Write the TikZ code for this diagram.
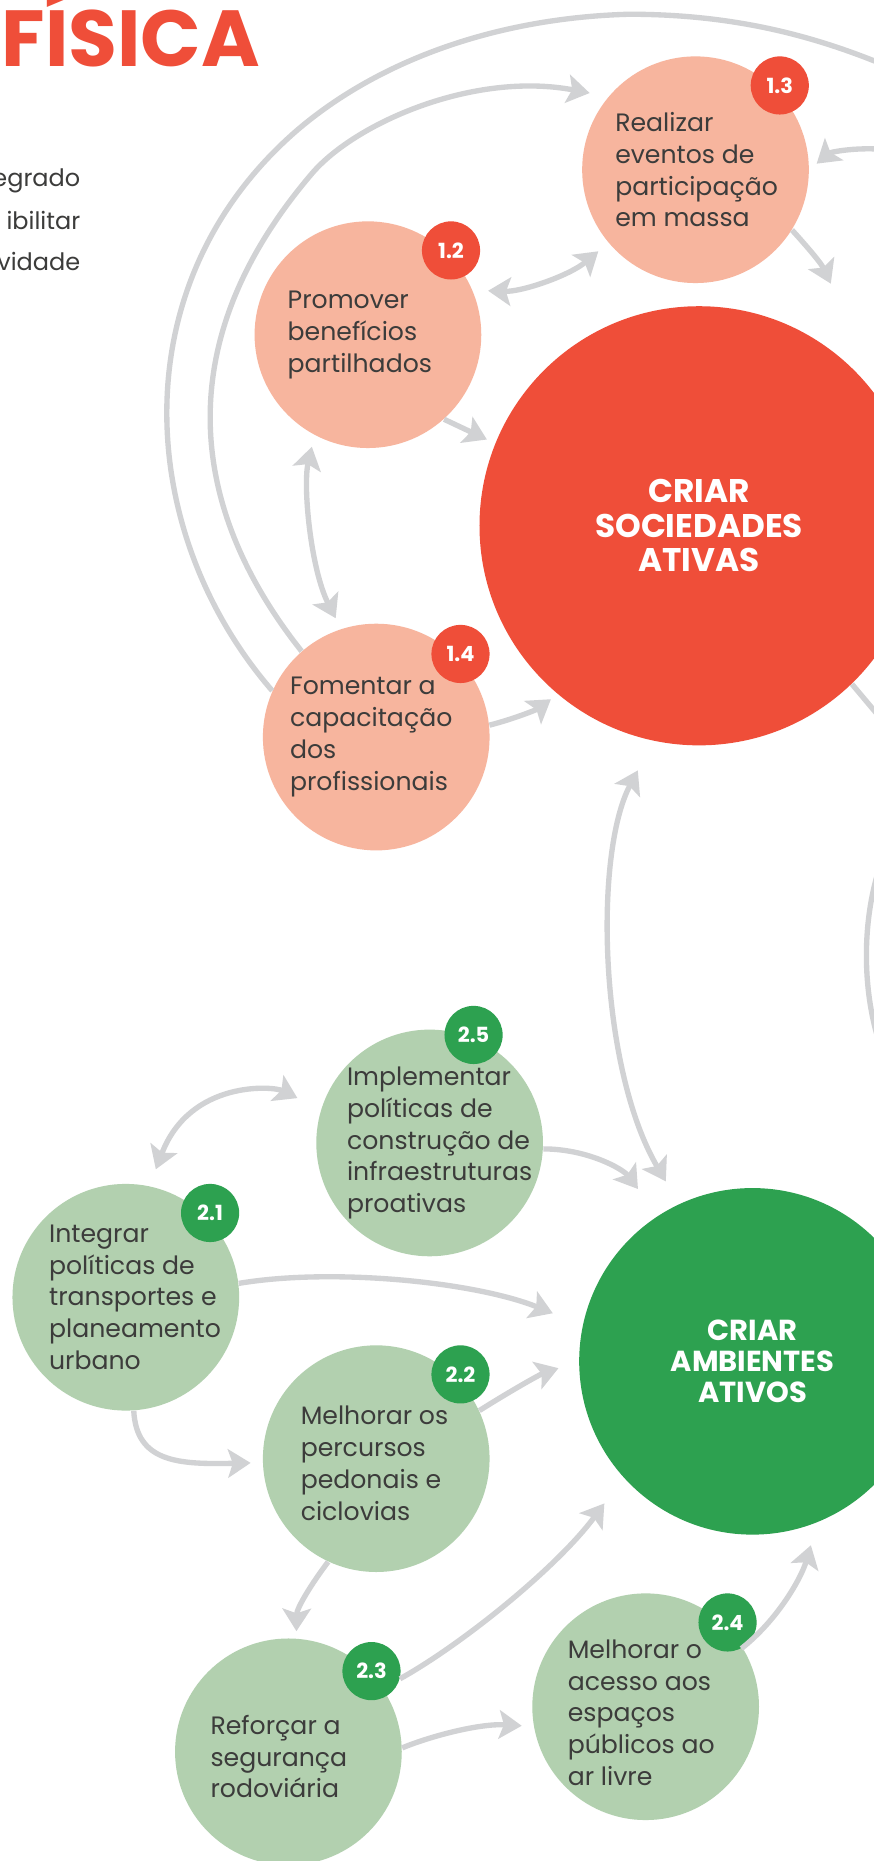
\documentclass[tikz,border=0pt]{standalone}
\usepackage{fontspec}
\setmainfont{Poppins}
\usetikzlibrary{arrows.meta,calc}
\definecolor{cred}{RGB}{239,78,57}
\definecolor{csalmon}{RGB}{247,181,158}
\definecolor{cgreen}{RGB}{45,161,80}
\definecolor{clgreen}{RGB}{178,208,175}
\definecolor{carrow}{RGB}{209,210,212}
\definecolor{ctext}{RGB}{60,60,59}
\begin{document}
\begin{tikzpicture}[x=0.5pt,y=-0.5pt]
\tikzset{
  gtip/.tip={Stealth[length=9.5pt,width=12pt,inset=2pt]},
  arr/.style={draw=carrow,line width=2.25pt,-gtip},
  darr/.style={draw=carrow,line width=2.25pt,gtip-gtip},
  plainline/.style={draw=carrow,line width=2.25pt},
  small/.style={circle,minimum size=95.5pt,inner sep=0pt},
  sone/.style={small,fill=csalmon},
  stwo/.style={small,fill=clgreen},
  txt/.style={anchor=west,inner sep=0pt,align=left,text=ctext,font=\fontsize{10.6}{13.4}\selectfont},
  badge/.style={circle,minimum size=24.5pt,inner sep=0pt,text=white,font=\fontsize{8.8}{9}\bfseries},
  bigS/.style={circle,minimum size=185pt,inner sep=0pt,fill=cred,text=white,align=center,font=\fontsize{13.8}{14.5}\bfseries},
  bigA/.style={circle,minimum size=146pt,inner sep=0pt,fill=cgreen,text=white,align=center,font=\fontsize{12.2}{13.2}\bfseries},
  side/.style={anchor=base east,inner sep=0pt,text=ctext,font=\fontsize{10.1}{13}\selectfont}
}
\fill[white] (0,0) rectangle (736,1568);
\useasboundingbox (0,0) rectangle (736,1568);

% title and side text
\node[anchor=base west,inner sep=0pt,text=cred,font=\fontsize{33.5}{34}\bfseries] (title) at (1,56) {FÍSICA};
\node[side] (l1) at (68,157) {egrado};
\node[side] (l2) at (68,193) {ibilitar};
\node[side] (l3) at (68,228) {vidade};

% main circles
\node[bigS] (nS) at (589,443) {CRIAR\\SOCIEDADES\\ATIVAS};
\node[bigA] (nA) at (634,1147) {CRIAR\\AMBIENTES\\ATIVOS};

% small circles
\node[sone] (n13) at (586,143) {};
\node[sone] (n12) at (310,282) {};
\node[sone] (n14) at (317,621) {};
\node[stwo] (n25) at (362,963) {};
\node[stwo] (n21) at (106,1093) {};
\node[stwo] (n22) at (317,1229) {};
\node[stwo] (n23) at (243,1476) {};
\node[stwo] (n24) at (544,1438) {};

% texts
\node[txt] (t13) at ($(n13)+(-68,0)$) {Realizar\\eventos de\\participação\\em massa};
\node[txt] (t12) at ($(n12)+(-68,0)$) {Promover\\benefícios\\partilhados};
\node[txt] (t14) at ($(n14)+(-73,0)$) {Fomentar a\\capacitação\\dos\\profissionais};
\node[txt] (t25) at ($(n25)+(-70,0)$) {Implementar\\políticas de\\construção de\\infraestruturas\\proativas};
\node[txt] (t21) at ($(n21)+(-65,0)$) {Integrar\\políticas de\\transportes e\\planeamento\\urbano};
\node[txt] (t22) at ($(n22)+(-64,4)$) {Melhorar os\\percursos\\pedonais e\\ciclovias};
\node[txt] (t23) at ($(n23)+(-66,4)$) {Reforçar a\\segurança\\rodoviária};
\node[txt] (t24) at ($(n24)+(-66,5)$) {Melhorar o\\acesso aos\\espaços\\públicos ao\\ar livre};

% badges
\node[badge,fill=cred] (b13) at ($(n13)+(71,-71)$) {1.3};
\node[badge,fill=cred] (b12) at ($(n12)+(70,-71)$) {1.2};
\node[badge,fill=cred] (b14) at ($(n14)+(71,-70)$) {1.4};
\node[badge,fill=cgreen] (b25) at ($(n25)+(37,-91)$) {2.5};
\node[badge,fill=cgreen] (b21) at ($(n21)+(71,-71)$) {2.1};
\node[badge,fill=cgreen] (b22) at ($(n22)+(71,-71)$) {2.2};
\node[badge,fill=cgreen] (b23) at ($(n23)+(70,-68)$) {2.3};
\node[badge,fill=cgreen] (b24) at ($(n24)+(69,-71)$) {2.4};

% free ends
\coordinate (off1) at (800,80);
\coordinate (off2) at (760,128);
\coordinate (x13) at (700,239);
\coordinate (offS) at (767,635);
\coordinate (offR1) at (745,720);
\coordinate (offR2) at (745,890);

% connectors
\draw[plainline] (n14.156) .. controls (115,450) and (100,240) .. (250,110)
   .. controls (320,50) and (420,15) .. (530,12) .. controls (640,12) and (720,40) .. (off1);
\draw[arr,shorten >=8pt] (n14.131) .. controls (160,430) and (140,290) .. (263,146)
   .. controls (300,103) and (400,60) .. (n13.140);
\draw[arr,shorten >=4pt] (off2) .. controls (730,122) and (700,128) .. (n13.0);
\draw[arr] (n13.-32) .. controls (682,210) and (692,222) .. (x13);
\draw[darr,shorten <=6.5pt,shorten >=5.5pt] (n12.23) .. controls (440,246) and (480,232) .. (n13.220);
\draw[arr,shorten >=3.8pt] (n12.-48) -- (nS.158);
\draw[darr,shorten <=5pt,shorten >=5pt] (n12.242) .. controls (255,410) and (262,480) .. (n14.108);
\draw[arr,shorten >=3.5pt] (n14.6) .. controls (432,606) and (452,598) .. (nS.230);
\draw[darr,shorten <=14pt,shorten >=11pt] (nS.258) .. controls (500,720) and (505,900) .. (nA.115);
\draw[plainline] (nS.-46) -- (offS);
\draw[plainline] (offR1) .. controls (725,770) and (725,840) .. (offR2);

\draw[darr,shorten <=11pt,shorten >=7.5pt] (n25.163) .. controls (230,915) and (160,910) .. (n21.78);
\draw[arr,shorten >=14pt] (n25.-3) .. controls (495,968) and (525,985) .. (nA.123);
\draw[arr,shorten >=13.5pt] (n21.7) .. controls (280,1068) and (400,1080) .. (nA.168);
\draw[arr,shorten >=5pt] (n21.274) .. controls (115,1232) and (150,1234) .. (n22.182);
\draw[arr,shorten >=9pt] (n22.25) .. controls (430,1172) and (455,1158) .. (nA.180);
\draw[arr,shorten >=3pt] (n22.245) .. controls (262,1335) and (250,1355) .. (n23.86);
\draw[arr,shorten >=13.5pt] (b23.-15) .. controls (390,1385) and (470,1320) .. (nA.222);
\draw[arr,shorten >=5pt] (n23.2) .. controls (365,1462) and (405,1452) .. (n24.190);
\draw[arr,shorten >=10pt] (b24.-62) .. controls (655,1365) and (675,1330) .. (nA.-68);
\end{tikzpicture}
\end{document}
